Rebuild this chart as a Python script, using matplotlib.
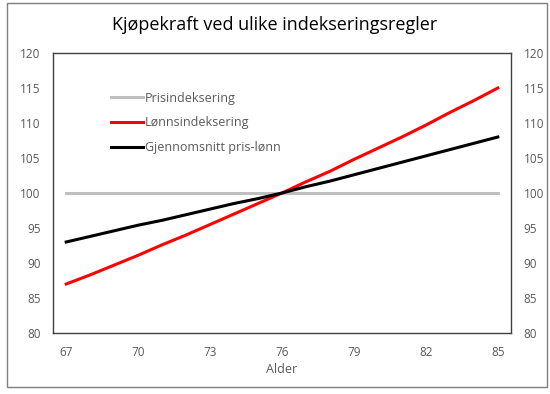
import matplotlib.pyplot as plt
from matplotlib.patches import Rectangle

# Data
alder = list(range(67, 86))
pris = [100] * 19
lonn = [87.0, 88.3, 89.7, 91.1, 92.6, 94.0, 95.5, 97.0, 98.5, 100.0,
        101.6, 103.1, 104.8, 106.4, 108.0, 109.7, 111.5, 113.2, 115.0]
snitt = [93.0, 93.8, 94.6, 95.4, 96.1, 96.9, 97.7, 98.5, 99.2, 100.0,
         100.9, 101.7, 102.6, 103.5, 104.4, 105.3, 106.2, 107.1, 108.0]
x_ticks = [67, 70, 73, 76, 79, 82, 85]
y_ticks = [80, 85, 90, 95, 100, 105, 110, 115, 120]

plt.rcParams['font.family'] = ['Open Sans', 'DejaVu Sans']
grey = '#595959'

fig = plt.figure(figsize=(5.5, 3.94), dpi=100)
ax = fig.add_axes([53 / 550, 1 - 333 / 394, 458 / 550, 280 / 394])

ax.plot(alder, pris, color='#bfbfbf', lw=2.2, label='Prisindeksering')
ax.plot(alder, lonn, color='#ff0000', lw=2.2, label='Lønnsindeksering')
ax.plot(alder, snitt, color='#000000', lw=2.2, label='Gjennomsnitt pris-lønn')

ax.set_xlim(66.45, 85.55)
ax.set_ylim(80, 120)
ax.set_xticks(x_ticks)
ax.set_yticks(y_ticks)
ax.tick_params(length=0, labelsize=8.5, labelcolor=grey, pad=9)
ax.tick_params(axis='y', labelright=True, right=False)
for s in ax.spines.values():
    s.set_color('#404040')
    s.set_linewidth(1.0)

ax.set_xlabel('Alder', fontsize=9, color=grey, labelpad=3)
fig.text(0.5, 1 - 25 / 394, 'Kjøpekraft ved ulike indekseringsregler',
         ha='center', va='center', fontsize=13, color='#000000')

leg = ax.legend(loc='upper left', bbox_to_anchor=(0.115, 0.88), frameon=False,
                fontsize=9, handlelength=2.6, handletextpad=0.15,
                labelspacing=0.95, borderaxespad=0)
for t in leg.get_texts():
    t.set_color(grey)

# outer chart border
fig.patches.append(Rectangle((7 / 550, 1 - 387 / 394), 540 / 550, 384 / 394,
                             transform=fig.transFigure, fill=False,
                             edgecolor='#7f7f7f', lw=1.0))

fig.savefig('out.png', dpi=100)
